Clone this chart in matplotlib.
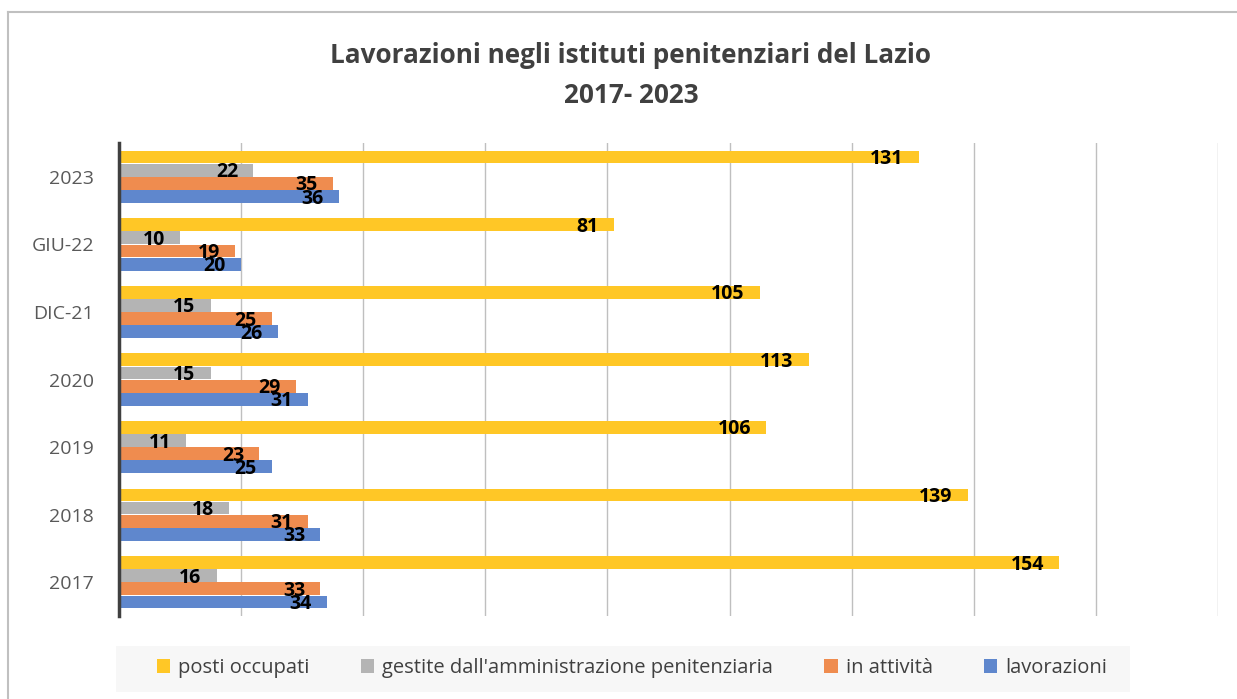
import numpy as np
import matplotlib.pyplot as plt
from matplotlib.lines import Line2D
from matplotlib.patches import Rectangle

categories = ['2017', '2018', '2019', '2020', 'DIC-21', 'GIU-22', '2023']
lavorazioni = [34, 33, 25, 31, 26, 20, 36]
in_attivita = [33, 31, 23, 29, 25, 19, 35]
gestite = [16, 18, 11, 15, 15, 10, 22]
posti_occupati = [154, 139, 106, 113, 105, 81, 131]

series = [
    ('lavorazioni', lavorazioni, '#5F87CD'),
    ('in attività', in_attivita, '#EF8C4F'),
    ("gestite dall'amministrazione penitenziaria", gestite, '#B4B4B4'),
    ('posti occupati', posti_occupati, '#FFC726'),
]

plt.rcParams['font.family'] = ['Open Sans', 'DejaVu Sans']

fig = plt.figure(figsize=(12.37, 6.99), dpi=100)
ax = fig.add_axes([0.0962, 0.1187, 0.8884, 0.6767])

y = np.arange(len(categories))
h = 0.195
offsets = [-1.5 * h, -0.5 * h, 0.5 * h, 1.5 * h]
handles = []
for (name, vals, col), off in zip(series, offsets):
    bars = ax.barh(y + off, vals, height=h * 0.97, color=col, edgecolor='none', zorder=3, label=name)
    handles.append(bars)
    for yi, v in zip(y, vals):
        ax.text(v - 2.5, yi + off - 0.03, str(v), ha='right', va='center',
                fontsize=14, fontweight='bold', color='black', zorder=4)

ax.set_xlim(0, 180)
ax.set_ylim(-0.5, len(categories) - 0.5)
ax.set_xticks(np.arange(0, 181, 20))
ax.set_xticklabels([])
ax.tick_params(axis='x', length=0)
ax.grid(axis='x', color='#BFBFBF', linewidth=1, zorder=0)
ax.set_yticks(y)
ax.set_yticklabels(categories, fontsize=14, color='#595959')
ax.tick_params(axis='y', length=0, pad=18)
for s in ['top', 'right', 'bottom']:
    ax.spines[s].set_visible(False)
ax.spines['left'].set_color('#404040')
ax.spines['left'].set_linewidth(2.5)
ax.spines['left'].set_zorder(5)

fig.text(0.51, 0.921, 'Lavorazioni negli istituti penitenziari del Lazio', ha='center', va='center',
         fontsize=18.8, fontweight='bold', color='#404040')
fig.text(0.51, 0.864, '2017- 2023', ha='center', va='center',
         fontsize=18.8, fontweight='bold', color='#404040')

# legend background band
fig.add_artist(Rectangle((116 / 1237, 1 - 692 / 699), (1130 - 116) / 1237, 46 / 699,
                         transform=fig.transFigure, facecolor='#F7F7F7', edgecolor='none', zorder=0))
leg = fig.legend(handles=handles[::-1], labels=[s[0] for s in series][::-1], loc='center',
                 bbox_to_anchor=(0.511, 1 - 668 / 699), ncol=4, frameon=False, fontsize=14.5,
                 handlelength=0.65, handleheight=0.65, handletextpad=0.4, columnspacing=2.55)
for t in leg.get_texts():
    t.set_color('#404040')

# outer chart border
fig.add_artist(Line2D([8 / 1237, 8 / 1237], [0, 1 - 12 / 699], transform=fig.transFigure, color='#C0C0C0', lw=1.5))
fig.add_artist(Line2D([8 / 1237, 1], [1 - 12 / 699, 1 - 12 / 699], transform=fig.transFigure, color='#C0C0C0', lw=1.5))

fig.savefig('out.png', dpi=100)
